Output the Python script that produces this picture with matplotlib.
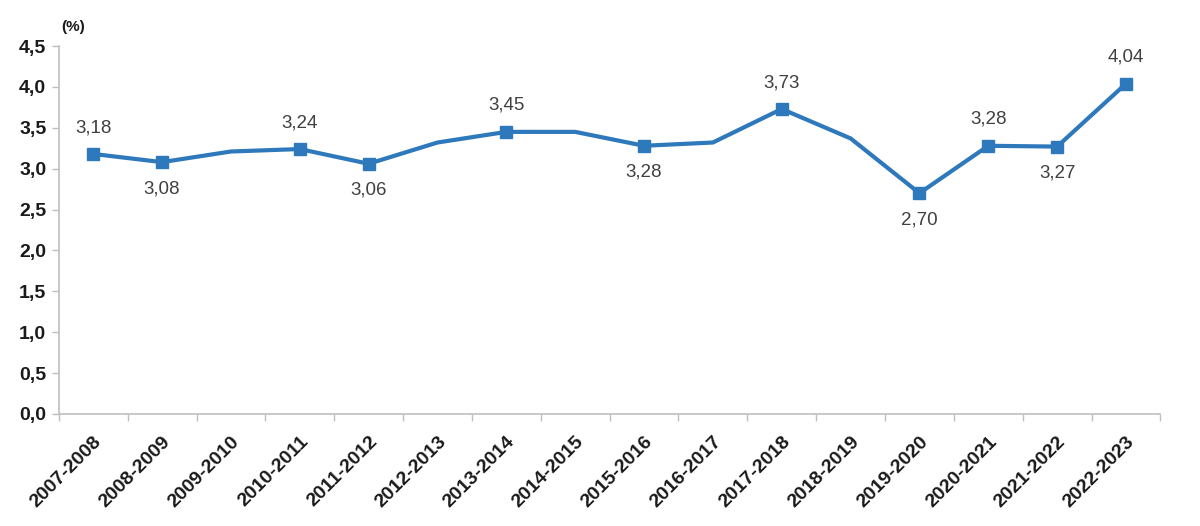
import matplotlib
matplotlib.use("Agg")
import matplotlib.pyplot as plt
import numpy as np

categories = ["2007-2008", "2008-2009", "2009-2010", "2010-2011", "2011-2012", "2012-2013",
              "2013-2014", "2014-2015", "2015-2016", "2016-2017", "2017-2018", "2018-2019",
              "2019-2020", "2020-2021", "2021-2022", "2022-2023"]
values = [3.18, 3.08, 3.21, 3.24, 3.06, 3.32, 3.45, 3.45, 3.28, 3.32, 3.73, 3.37,
          2.70, 3.28, 3.27, 4.04]
# label position per point: 1 above, -1 below, 0 no label/marker
label_pos = [1, -1, 0, 1, -1, 0, 1, 0, -1, 0, 1, 0, -1, 1, -1, 1]
y_ticks = [0.0, 0.5, 1.0, 1.5, 2.0, 2.5, 3.0, 3.5, 4.0, 4.5]

plt.rcParams['font.family'] = ['Liberation Sans', 'DejaVu Sans']

fig = plt.figure(figsize=(12, 5.26), dpi=100)
ax = fig.add_axes([0.049, 0.213, 0.918, 0.6995])

color = '#2e78bc'
x = np.arange(len(categories))
ax.plot(x, values, color=color, lw=3, zorder=3, solid_joinstyle='round')
mx = [xi for xi, p in zip(x, label_pos) if p != 0]
my = [v for v, p in zip(values, label_pos) if p != 0]
ax.plot(mx, my, 's', color=color, markersize=8, zorder=4)

for xi, v, p in zip(x, values, label_pos):
    if p == 0:
        continue
    ax.annotate(f"{v:.2f}".replace('.', ','), (xi, v), xytext=(0, 19 * p),
                textcoords='offset points', ha='center', va='center',
                fontsize=13.5, color='#404040')

ax.set_xlim(-0.5, len(categories) - 0.5)
ax.set_ylim(0, 4.5)
ax.set_yticks(y_ticks)
ax.set_yticklabels([f"{t:.1f}".replace('.', ',') for t in y_ticks],
                   fontsize=14, fontweight='bold', color='#1a1a1a')
ax.set_xticks(x)
ax.set_xticklabels(categories, rotation=45, ha='right', rotation_mode='anchor',
                   fontsize=14, fontweight='bold', color='#1a1a1a')
ax.tick_params(axis='x', which='major', length=0, pad=14)
ax.set_xticks(np.arange(-0.5, len(categories)), minor=True)
ax.tick_params(axis='x', which='minor', length=5, color='#bfbfbf', width=1)
ax.tick_params(axis='y', length=5, color='#bfbfbf', width=1, pad=4)

for s in ['top', 'right']:
    ax.spines[s].set_visible(False)
for s in ['left', 'bottom']:
    ax.spines[s].set_color('#bfbfbf')
    ax.spines[s].set_linewidth(1.2)

fig.text(0.051, 0.948, "(%)", fontsize=11, fontweight='bold', color='#1a1a1a',
         ha='left', va='center')

fig.savefig("out.png", dpi=100, facecolor='white')
